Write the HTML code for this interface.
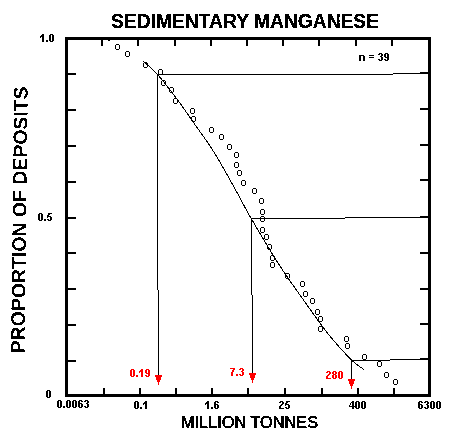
<!DOCTYPE html>
<html><head><meta charset="utf-8"><style>
html,body{margin:0;padding:0;background:#fff;}
svg{display:block;will-change:transform;font-family:"Liberation Sans",sans-serif;}
</style></head><body>
<svg width="454" height="437" viewBox="0 0 454 437" shape-rendering="crispEdges">
<rect width="454" height="437" fill="#fff"/>
<rect x="65" y="37" width="366" height="3" fill="#000"/>
<rect x="65" y="394" width="366" height="3" fill="#000"/>
<rect x="65" y="37" width="3" height="360" fill="#000"/>
<rect x="428" y="37" width="3" height="360" fill="#000"/>
<rect x="101" y="40" width="2" height="6" fill="#000"/>
<rect x="137" y="40" width="2" height="6" fill="#000"/>
<rect x="174" y="40" width="2" height="6" fill="#000"/>
<rect x="210" y="40" width="2" height="6" fill="#000"/>
<rect x="246" y="40" width="2" height="6" fill="#000"/>
<rect x="282" y="40" width="2" height="6" fill="#000"/>
<rect x="318" y="40" width="2" height="6" fill="#000"/>
<rect x="355" y="40" width="2" height="6" fill="#000"/>
<rect x="391" y="40" width="2" height="6" fill="#000"/>
<rect x="103" y="388" width="2" height="6" fill="#000"/>
<rect x="139" y="388" width="2" height="6" fill="#000"/>
<rect x="175" y="388" width="2" height="6" fill="#000"/>
<rect x="211" y="388" width="2" height="6" fill="#000"/>
<rect x="247" y="388" width="2" height="6" fill="#000"/>
<rect x="284" y="388" width="2" height="6" fill="#000"/>
<rect x="321" y="388" width="2" height="6" fill="#000"/>
<rect x="357" y="388" width="2" height="6" fill="#000"/>
<rect x="393" y="388" width="2" height="6" fill="#000"/>
<rect x="68" y="73" width="8" height="2" fill="#000"/>
<rect x="68" y="109" width="8" height="2" fill="#000"/>
<rect x="68" y="145" width="8" height="2" fill="#000"/>
<rect x="68" y="181" width="8" height="2" fill="#000"/>
<rect x="68" y="217" width="8" height="2" fill="#000"/>
<rect x="68" y="252" width="8" height="2" fill="#000"/>
<rect x="68" y="288" width="8" height="2" fill="#000"/>
<rect x="68" y="324" width="8" height="2" fill="#000"/>
<rect x="68" y="360" width="8" height="2" fill="#000"/>
<rect x="420" y="72" width="8" height="2" fill="#000"/>
<rect x="420" y="108" width="8" height="2" fill="#000"/>
<rect x="420" y="144" width="8" height="2" fill="#000"/>
<rect x="420" y="179" width="8" height="2" fill="#000"/>
<rect x="420" y="216" width="8" height="2" fill="#000"/>
<rect x="420" y="252" width="8" height="2" fill="#000"/>
<rect x="420" y="288" width="8" height="2" fill="#000"/>
<rect x="420" y="323" width="8" height="2" fill="#000"/>
<rect x="420" y="358" width="8" height="2" fill="#000"/>
<rect x="108" y="40" width="2" height="1" fill="#000"/>
<path d="M116 44h3v1h-3zM115 45h1v4h-1zM119 45h1v4h-1zM116 49h3v1h-3zM126 51h3v1h-3zM125 52h1v4h-1zM129 52h1v4h-1zM126 56h3v1h-3zM144 62h3v1h-3zM143 63h1v4h-1zM147 63h1v4h-1zM144 67h3v1h-3zM159 69h3v1h-3zM158 70h1v4h-1zM162 70h1v4h-1zM159 74h3v1h-3zM162 80h3v1h-3zM161 81h1v4h-1zM165 81h1v4h-1zM162 85h3v1h-3zM170 87h3v1h-3zM169 88h1v4h-1zM173 88h1v4h-1zM170 92h3v1h-3zM174 98h3v1h-3zM173 99h1v4h-1zM177 99h1v4h-1zM174 103h3v1h-3zM191 108h3v1h-3zM190 109h1v4h-1zM194 109h1v4h-1zM191 113h3v1h-3zM192 116h3v1h-3zM191 117h1v4h-1zM195 117h1v4h-1zM192 121h3v1h-3zM210 127h3v1h-3zM209 128h1v4h-1zM213 128h1v4h-1zM210 132h3v1h-3zM220 134h3v1h-3zM219 135h1v4h-1zM223 135h1v4h-1zM220 139h3v1h-3zM228 144h3v1h-3zM227 145h1v4h-1zM231 145h1v4h-1zM228 149h3v1h-3zM235 152h3v1h-3zM234 153h1v4h-1zM238 153h1v4h-1zM235 157h3v1h-3zM235 162h3v1h-3zM234 163h1v4h-1zM238 163h1v4h-1zM235 167h3v1h-3zM238 170h3v1h-3zM237 171h1v4h-1zM241 171h1v4h-1zM238 175h3v1h-3zM242 180h3v1h-3zM241 181h1v4h-1zM245 181h1v4h-1zM242 185h3v1h-3zM253 188h3v1h-3zM252 189h1v4h-1zM256 189h1v4h-1zM253 193h3v1h-3zM260 198h3v1h-3zM259 199h1v4h-1zM263 199h1v4h-1zM260 203h3v1h-3zM261 209h3v1h-3zM260 210h1v4h-1zM264 210h1v4h-1zM261 214h3v1h-3zM261 216h3v1h-3zM260 217h1v4h-1zM264 217h1v4h-1zM261 221h3v1h-3zM261 227h3v1h-3zM260 228h1v4h-1zM264 228h1v4h-1zM261 232h3v1h-3zM265 234h3v1h-3zM264 235h1v4h-1zM268 235h1v4h-1zM265 239h3v1h-3zM268 244h3v1h-3zM267 245h1v4h-1zM271 245h1v4h-1zM268 249h3v1h-3zM271 255h3v1h-3zM270 256h1v4h-1zM274 256h1v4h-1zM271 260h3v1h-3zM271 262h3v1h-3zM270 263h1v4h-1zM274 263h1v4h-1zM271 267h3v1h-3zM286 273h3v1h-3zM285 274h1v4h-1zM289 274h1v4h-1zM286 278h3v1h-3zM301 281h3v1h-3zM300 282h1v4h-1zM304 282h1v4h-1zM301 286h3v1h-3zM304 291h3v1h-3zM303 292h1v4h-1zM307 292h1v4h-1zM304 296h3v1h-3zM311 298h3v1h-3zM310 299h1v4h-1zM314 299h1v4h-1zM311 303h3v1h-3zM316 309h3v1h-3zM315 310h1v4h-1zM319 310h1v4h-1zM316 314h3v1h-3zM319 316h3v1h-3zM318 317h1v4h-1zM322 317h1v4h-1zM319 321h3v1h-3zM319 326h3v1h-3zM318 327h1v4h-1zM322 327h1v4h-1zM319 331h3v1h-3zM345 336h3v1h-3zM344 337h1v4h-1zM348 337h1v4h-1zM345 341h3v1h-3zM346 343h3v1h-3zM345 344h1v4h-1zM349 344h1v4h-1zM346 348h3v1h-3zM363 354h3v1h-3zM362 355h1v4h-1zM366 355h1v4h-1zM363 359h3v1h-3zM378 361h3v1h-3zM377 362h1v4h-1zM381 362h1v4h-1zM378 366h3v1h-3zM385 372h3v1h-3zM384 373h1v4h-1zM388 373h1v4h-1zM385 377h3v1h-3zM394 379h3v1h-3zM393 380h1v4h-1zM397 380h1v4h-1zM394 384h3v1h-3z" fill="#000"/>
<rect x="157" y="74" width="236" height="1" fill="#000"/>
<rect x="393" y="73" width="35" height="1" fill="#000"/>
<rect x="157" y="74" width="1" height="216" fill="#000"/>
<rect x="158" y="290" width="1" height="85" fill="#000"/>
<rect x="251" y="218" width="94" height="1" fill="#000"/>
<rect x="345" y="217" width="83" height="1" fill="#000"/>
<rect x="251" y="218" width="1" height="77" fill="#000"/>
<rect x="252" y="295" width="1" height="78" fill="#000"/>
<rect x="351" y="360" width="39" height="1" fill="#000"/>
<rect x="390" y="359" width="38" height="1" fill="#000"/>
<rect x="351" y="360" width="1" height="19" fill="#000"/>
<rect x="155" y="375" width="7" height="2" fill="#f00"/>
<rect x="156" y="377" width="5" height="3" fill="#f00"/>
<rect x="157" y="380" width="3" height="2" fill="#f00"/>
<rect x="158" y="382" width="1" height="3" fill="#f00"/>
<rect x="249" y="373" width="7" height="2" fill="#f00"/>
<rect x="250" y="375" width="5" height="3" fill="#f00"/>
<rect x="251" y="378" width="3" height="2" fill="#f00"/>
<rect x="252" y="380" width="1" height="3" fill="#f00"/>
<rect x="348" y="379" width="7" height="2" fill="#f00"/>
<rect x="349" y="381" width="5" height="3" fill="#f00"/>
<rect x="350" y="384" width="3" height="2" fill="#f00"/>
<rect x="351" y="386" width="1" height="3" fill="#f00"/>
<path d="M143.0 61.0 C145.4 63.2 151.3 67.5 157.5 74.5 C163.7 81.5 174.0 95.1 180.0 103.2 C186.0 111.3 188.3 115.1 193.7 122.9 C199.1 130.7 206.1 139.7 212.6 150.0 C219.1 160.3 226.5 173.6 232.9 185.0 C239.3 196.4 243.5 205.2 251.2 218.5 C258.9 231.8 270.6 251.4 279.3 265.0 C288.0 278.6 295.2 288.3 303.5 300.0 C311.8 311.7 321.0 325.0 329.0 335.0 C337.0 345.0 345.6 354.3 351.4 360.0 C357.2 365.7 361.7 367.8 363.8 369.4" fill="none" stroke="#000" stroke-width="1"/>
<defs><filter id="bin" x="-5%" y="-20%" width="110%" height="140%"><feComponentTransfer><feFuncA type="discrete" tableValues="0 1 1"/></feComponentTransfer></filter><filter id="bin2" x="-5%" y="-20%" width="110%" height="140%"><feComponentTransfer><feFuncA type="discrete" tableValues="0 1"/></feComponentTransfer></filter></defs>
<g filter="url(#bin)">
<text x="111" y="28" font-size="19.6" font-weight="bold" fill="#000" textLength="138" lengthAdjust="spacingAndGlyphs">SEDIMENTARY</text>
<text x="254" y="28" font-size="19.6" font-weight="bold" fill="#000" textLength="125" lengthAdjust="spacingAndGlyphs">MANGANESE</text>
<text x="181" y="428" font-size="16" font-weight="normal" fill="#000" textLength="137" lengthAdjust="spacingAndGlyphs" stroke="#000" stroke-width="0.25">MILLION TONNES</text>
</g><g filter="url(#bin2)">
<text x="0" y="0" font-size="19.7" font-weight="bold" fill="#000" textLength="267" lengthAdjust="spacingAndGlyphs" transform="translate(24.5,353.4) rotate(-89.3)">PROPORTION OF DEPOSITS</text>
</g>
<path d="M42 34h2v1h-2zM41 35h3v1h-3zM40 36h4v1h-4zM40 37h1v1h-1zM42 37h2v1h-2zM42 38h2v1h-2zM42 39h2v1h-2zM42 40h2v1h-2zM42 41h2v1h-2zM46 40h2v1h-2zM46 41h2v1h-2zM50 34h3v1h-3zM49 35h2v1h-2zM52 35h2v1h-2zM49 36h2v1h-2zM52 36h2v1h-2zM49 37h2v1h-2zM52 37h2v1h-2zM49 38h2v1h-2zM52 38h2v1h-2zM49 39h2v1h-2zM52 39h2v1h-2zM49 40h2v1h-2zM52 40h2v1h-2zM50 41h3v1h-3z" fill="#000"/>
<path d="M39 213h3v1h-3zM38 214h2v1h-2zM41 214h2v1h-2zM38 215h2v1h-2zM41 215h2v1h-2zM38 216h2v1h-2zM41 216h2v1h-2zM38 217h2v1h-2zM41 217h2v1h-2zM38 218h2v1h-2zM41 218h2v1h-2zM38 219h2v1h-2zM41 219h2v1h-2zM39 220h3v1h-3zM44 219h2v1h-2zM44 220h2v1h-2zM48 213h4v1h-4zM48 214h2v1h-2zM47 215h2v1h-2zM47 216h4v1h-4zM47 217h1v1h-1zM50 217h2v1h-2zM50 218h2v1h-2zM47 219h2v1h-2zM50 219h2v1h-2zM48 220h3v1h-3z" fill="#000"/>
<path d="M47 390h3v1h-3zM46 391h2v1h-2zM49 391h2v1h-2zM46 392h2v1h-2zM49 392h2v1h-2zM46 393h2v1h-2zM49 393h2v1h-2zM46 394h2v1h-2zM49 394h2v1h-2zM46 395h2v1h-2zM49 395h2v1h-2zM46 396h2v1h-2zM49 396h2v1h-2zM47 397h3v1h-3z" fill="#000"/>
<path d="M58 400h3v1h-3zM57 401h2v1h-2zM60 401h2v1h-2zM57 402h2v1h-2zM60 402h2v1h-2zM57 403h2v1h-2zM60 403h2v1h-2zM57 404h2v1h-2zM60 404h2v1h-2zM57 405h2v1h-2zM60 405h2v1h-2zM57 406h2v1h-2zM60 406h2v1h-2zM58 407h3v1h-3zM63 406h2v1h-2zM63 407h2v1h-2zM67 400h3v1h-3zM66 401h2v1h-2zM69 401h2v1h-2zM66 402h2v1h-2zM69 402h2v1h-2zM66 403h2v1h-2zM69 403h2v1h-2zM66 404h2v1h-2zM69 404h2v1h-2zM66 405h2v1h-2zM69 405h2v1h-2zM66 406h2v1h-2zM69 406h2v1h-2zM67 407h3v1h-3zM73 400h3v1h-3zM72 401h2v1h-2zM75 401h2v1h-2zM72 402h2v1h-2zM75 402h2v1h-2zM72 403h2v1h-2zM75 403h2v1h-2zM72 404h2v1h-2zM75 404h2v1h-2zM72 405h2v1h-2zM75 405h2v1h-2zM72 406h2v1h-2zM75 406h2v1h-2zM73 407h3v1h-3zM79 400h3v1h-3zM78 401h2v1h-2zM81 401h2v1h-2zM78 402h2v1h-2zM78 403h4v1h-4zM78 404h2v1h-2zM81 404h2v1h-2zM78 405h2v1h-2zM81 405h2v1h-2zM78 406h2v1h-2zM81 406h2v1h-2zM79 407h3v1h-3zM85 400h3v1h-3zM84 401h2v1h-2zM87 401h2v1h-2zM87 402h2v1h-2zM86 403h2v1h-2zM87 404h2v1h-2zM87 405h2v1h-2zM84 406h2v1h-2zM87 406h2v1h-2zM85 407h3v1h-3z" fill="#000"/>
<path d="M135 401h3v1h-3zM134 402h2v1h-2zM137 402h2v1h-2zM134 403h2v1h-2zM137 403h2v1h-2zM134 404h2v1h-2zM137 404h2v1h-2zM134 405h2v1h-2zM137 405h2v1h-2zM134 406h2v1h-2zM137 406h2v1h-2zM134 407h2v1h-2zM137 407h2v1h-2zM135 408h3v1h-3zM140 407h2v1h-2zM140 408h2v1h-2zM145 401h2v1h-2zM144 402h3v1h-3zM143 403h4v1h-4zM143 404h1v1h-1zM145 404h2v1h-2zM145 405h2v1h-2zM145 406h2v1h-2zM145 407h2v1h-2zM145 408h2v1h-2z" fill="#000"/>
<path d="M207 401h2v1h-2zM206 402h3v1h-3zM205 403h4v1h-4zM205 404h1v1h-1zM207 404h2v1h-2zM207 405h2v1h-2zM207 406h2v1h-2zM207 407h2v1h-2zM207 408h2v1h-2zM211 407h2v1h-2zM211 408h2v1h-2zM215 401h3v1h-3zM214 402h2v1h-2zM217 402h2v1h-2zM214 403h2v1h-2zM214 404h4v1h-4zM214 405h2v1h-2zM217 405h2v1h-2zM214 406h2v1h-2zM217 406h2v1h-2zM214 407h2v1h-2zM217 407h2v1h-2zM215 408h3v1h-3z" fill="#000"/>
<path d="M280 401h3v1h-3zM279 402h2v1h-2zM282 402h2v1h-2zM282 403h2v1h-2zM281 404h2v1h-2zM280 405h2v1h-2zM279 406h2v1h-2zM279 407h2v1h-2zM279 408h5v1h-5zM286 401h4v1h-4zM286 402h2v1h-2zM285 403h2v1h-2zM285 404h4v1h-4zM285 405h1v1h-1zM288 405h2v1h-2zM288 406h2v1h-2zM285 407h2v1h-2zM288 407h2v1h-2zM286 408h3v1h-3z" fill="#000"/>
<path d="M352 401h2v1h-2zM351 402h3v1h-3zM350 403h1v1h-1zM352 403h2v1h-2zM350 404h1v1h-1zM352 404h2v1h-2zM349 405h1v1h-1zM352 405h2v1h-2zM349 406h6v1h-6zM352 407h2v1h-2zM352 408h2v1h-2zM356 401h3v1h-3zM355 402h2v1h-2zM358 402h2v1h-2zM355 403h2v1h-2zM358 403h2v1h-2zM355 404h2v1h-2zM358 404h2v1h-2zM355 405h2v1h-2zM358 405h2v1h-2zM355 406h2v1h-2zM358 406h2v1h-2zM355 407h2v1h-2zM358 407h2v1h-2zM356 408h3v1h-3zM362 401h3v1h-3zM361 402h2v1h-2zM364 402h2v1h-2zM361 403h2v1h-2zM364 403h2v1h-2zM361 404h2v1h-2zM364 404h2v1h-2zM361 405h2v1h-2zM364 405h2v1h-2zM361 406h2v1h-2zM364 406h2v1h-2zM361 407h2v1h-2zM364 407h2v1h-2zM362 408h3v1h-3z" fill="#000"/>
<path d="M419 401h3v1h-3zM418 402h2v1h-2zM421 402h2v1h-2zM418 403h2v1h-2zM418 404h4v1h-4zM418 405h2v1h-2zM421 405h2v1h-2zM418 406h2v1h-2zM421 406h2v1h-2zM418 407h2v1h-2zM421 407h2v1h-2zM419 408h3v1h-3zM425 401h3v1h-3zM424 402h2v1h-2zM427 402h2v1h-2zM427 403h2v1h-2zM426 404h2v1h-2zM427 405h2v1h-2zM427 406h2v1h-2zM424 407h2v1h-2zM427 407h2v1h-2zM425 408h3v1h-3zM431 401h3v1h-3zM430 402h2v1h-2zM433 402h2v1h-2zM430 403h2v1h-2zM433 403h2v1h-2zM430 404h2v1h-2zM433 404h2v1h-2zM430 405h2v1h-2zM433 405h2v1h-2zM430 406h2v1h-2zM433 406h2v1h-2zM430 407h2v1h-2zM433 407h2v1h-2zM431 408h3v1h-3zM437 401h3v1h-3zM436 402h2v1h-2zM439 402h2v1h-2zM436 403h2v1h-2zM439 403h2v1h-2zM436 404h2v1h-2zM439 404h2v1h-2zM436 405h2v1h-2zM439 405h2v1h-2zM436 406h2v1h-2zM439 406h2v1h-2zM436 407h2v1h-2zM439 407h2v1h-2zM437 408h3v1h-3z" fill="#000"/>
<path d="M359 55h5v1h-5zM359 56h2v1h-2zM363 56h2v1h-2zM359 57h2v1h-2zM363 57h2v1h-2zM359 58h2v1h-2zM363 58h2v1h-2zM359 59h2v1h-2zM363 59h2v1h-2zM359 60h2v1h-2zM363 60h2v1h-2zM369 55h5v1h-5zM369 57h5v1h-5zM379 53h3v1h-3zM378 54h2v1h-2zM381 54h2v1h-2zM381 55h2v1h-2zM380 56h2v1h-2zM381 57h2v1h-2zM381 58h2v1h-2zM378 59h2v1h-2zM381 59h2v1h-2zM379 60h3v1h-3zM385 53h3v1h-3zM384 54h2v1h-2zM387 54h2v1h-2zM384 55h2v1h-2zM387 55h2v1h-2zM384 56h2v1h-2zM387 56h2v1h-2zM385 57h4v1h-4zM387 58h2v1h-2zM384 59h2v1h-2zM387 59h2v1h-2zM385 60h3v1h-3z" fill="#000"/>
<path d="M131 369h3v1h-3zM130 370h2v1h-2zM133 370h2v1h-2zM130 371h2v1h-2zM133 371h2v1h-2zM130 372h2v1h-2zM133 372h2v1h-2zM130 373h2v1h-2zM133 373h2v1h-2zM130 374h2v1h-2zM133 374h2v1h-2zM130 375h2v1h-2zM133 375h2v1h-2zM131 376h3v1h-3zM136 375h2v1h-2zM136 376h2v1h-2zM141 369h2v1h-2zM140 370h3v1h-3zM139 371h4v1h-4zM139 372h1v1h-1zM141 372h2v1h-2zM141 373h2v1h-2zM141 374h2v1h-2zM141 375h2v1h-2zM141 376h2v1h-2zM146 369h3v1h-3zM145 370h2v1h-2zM148 370h2v1h-2zM145 371h2v1h-2zM148 371h2v1h-2zM145 372h2v1h-2zM148 372h2v1h-2zM146 373h4v1h-4zM148 374h2v1h-2zM145 375h2v1h-2zM148 375h2v1h-2zM146 376h3v1h-3z" fill="#f00"/>
<path d="M230 368h5v1h-5zM233 369h2v1h-2zM232 370h2v1h-2zM232 371h2v1h-2zM231 372h2v1h-2zM231 373h2v1h-2zM231 374h2v1h-2zM231 375h2v1h-2zM236 374h2v1h-2zM236 375h2v1h-2zM240 368h3v1h-3zM239 369h2v1h-2zM242 369h2v1h-2zM242 370h2v1h-2zM241 371h2v1h-2zM242 372h2v1h-2zM242 373h2v1h-2zM239 374h2v1h-2zM242 374h2v1h-2zM240 375h3v1h-3z" fill="#f00"/>
<path d="M327 371h3v1h-3zM326 372h2v1h-2zM329 372h2v1h-2zM329 373h2v1h-2zM328 374h2v1h-2zM327 375h2v1h-2zM326 376h2v1h-2zM326 377h2v1h-2zM326 378h5v1h-5zM333 371h3v1h-3zM332 372h2v1h-2zM335 372h2v1h-2zM332 373h2v1h-2zM335 373h2v1h-2zM333 374h3v1h-3zM332 375h2v1h-2zM335 375h2v1h-2zM332 376h2v1h-2zM335 376h2v1h-2zM332 377h2v1h-2zM335 377h2v1h-2zM333 378h3v1h-3zM339 371h3v1h-3zM338 372h2v1h-2zM341 372h2v1h-2zM338 373h2v1h-2zM341 373h2v1h-2zM338 374h2v1h-2zM341 374h2v1h-2zM338 375h2v1h-2zM341 375h2v1h-2zM338 376h2v1h-2zM341 376h2v1h-2zM338 377h2v1h-2zM341 377h2v1h-2zM339 378h3v1h-3z" fill="#f00"/>
</svg></body></html>
